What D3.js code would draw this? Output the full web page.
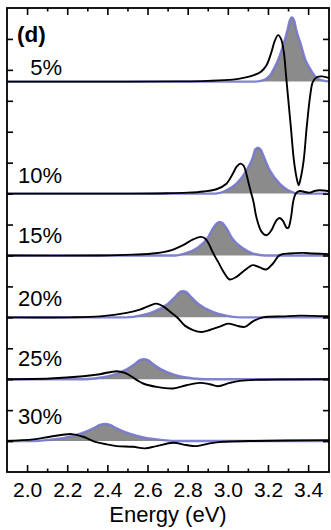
<!DOCTYPE html>
<html>
<head>
<meta charset="utf-8">
<script src="https://cdn.jsdelivr.net/npm/d3@7"></script>
<style>
  body { margin: 0; background: #fff; }
  svg { display: block; font-family: "Liberation Sans", Arial, sans-serif; }
</style>
</head>
<body>
<svg id="chart" width="331" height="530"></svg>
<script>
// Doping levels, one stacked trace each (top to bottom)
const concentrations = ["5%", "10%", "15%", "20%", "25%", "30%"];
// Vertical offset of each trace's zero line (arb. units)
const offsets = [11.62, 8, 6, 4, 2, 0];

// Energy axis ticks (eV)
const majorTicks = [2.0, 2.2, 2.4, 2.6, 2.8, 3.0, 3.2, 3.4];
const minorTicks = [2.1, 2.3, 2.5, 2.7, 2.9, 3.1, 3.3];
const levelTicks = [0, 1, 2, 3, 4, 5, 6, 7, 8, 9, 10, 11, 12, 13];

// Fitted absorption peak for each level: [energy (eV), intensity]
const peak05 = [[1.9,0],[3.134,0],[3.169,0.03],[3.194,0.10],[3.217,0.265],[3.234,0.47],[3.250,0.695],[3.279,1.235],[3.297,1.665],[3.308,1.96],[3.319,2.075],[3.331,1.96],[3.341,1.665],[3.362,1.235],[3.387,0.695],[3.405,0.47],[3.424,0.265],[3.447,0.10],[3.477,0.03],[3.51,0]];
const peak10 = [[1.9,0],[2.935,0],[2.993,0.107],[3.043,0.323],[3.093,0.753],[3.125,1.183],[3.136,1.42],[3.150,1.487],[3.164,1.42],[3.180,1.183],[3.209,0.753],[3.258,0.323],[3.300,0.107],[3.358,0],[3.51,0]];
const peak15 = [[1.9,0],[2.735,0],[2.792,0.078],[2.846,0.236],[2.898,0.55],[2.925,0.864],[2.945,1.04],[2.960,1.086],[2.975,1.04],[2.995,0.864],[3.022,0.55],[3.075,0.236],[3.120,0.078],[3.185,0],[3.51,0]];
const peak20 = [[1.9,0],[2.497,0],[2.568,0.061],[2.632,0.182],[2.699,0.426],[2.739,0.67],[2.758,0.80],[2.777,0.841],[2.796,0.80],[2.815,0.67],[2.855,0.426],[2.922,0.182],[2.986,0.061],[3.057,0],[3.51,0]];
const peak25 = [[1.9,0],[2.282,0],[2.360,0.047],[2.429,0.14],[2.499,0.327],[2.542,0.515],[2.562,0.618],[2.582,0.647],[2.602,0.618],[2.622,0.515],[2.665,0.327],[2.735,0.14],[2.804,0.047],[2.882,0],[3.51,0]];
const peak30 = [[1.9,0],[2.012,0],[2.111,0.04],[2.196,0.119],[2.284,0.278],[2.338,0.438],[2.363,0.525],[2.388,0.55],[2.413,0.525],[2.438,0.438],[2.492,0.278],[2.580,0.119],[2.665,0.04],[2.764,0],[3.51,0]];

// Measured spectrum for each level: [energy (eV), signal]
const spectrum05 = [[1.9,0],[2.5,0],[2.75,0.008],[2.900,0.025],[3.024,0.065],[3.084,0.13],[3.130,0.21],[3.165,0.32],[3.192,0.52],[3.217,0.95],[3.233,1.30],[3.250,1.503],[3.265,1.38],[3.279,0.95],[3.290,0.20],[3.300,-0.50],[3.314,-1.471],[3.329,-2.538],[3.343,-3.12],[3.353,-3.346],[3.363,-3.12],[3.378,-2.538],[3.393,-1.471],[3.412,-0.372],[3.424,0],[3.445,0.15],[3.47,0.17],[3.507,0.113]];
const spectrum10 = [[1.9,0],[2.5,0],[2.700,0.01],[2.800,0.03],[2.880,0.07],[2.943,0.14],[2.993,0.32],[3.026,0.66],[3.045,0.88],[3.063,0.970],[3.079,0.90],[3.092,0.65],[3.105,0.30],[3.117,0],[3.129,-0.30],[3.142,-0.757],[3.167,-1.22],[3.192,-1.348],[3.217,-1.187],[3.242,-0.863],[3.258,-0.789],[3.275,-0.88],[3.292,-1.10],[3.301,-1.11],[3.314,-0.80],[3.326,-0.25],[3.338,0],[3.358,0.084],[3.383,0.052],[3.407,0.03],[3.432,0.084],[3.457,0.107],[3.507,0.074]];
const spectrum15 = [[1.9,0],[2.363,0],[2.527,0.026],[2.640,0.07],[2.720,0.17],[2.777,0.333],[2.827,0.517],[2.865,0.601],[2.887,0.55],[2.903,0.40],[2.920,0.17],[2.935,-0.02],[2.951,-0.20],[2.976,-0.50],[3.009,-0.776],[3.043,-0.692],[3.084,-0.475],[3.125,-0.314],[3.159,-0.388],[3.192,-0.453],[3.225,-0.259],[3.258,0.01],[3.308,0.065],[3.374,0.084],[3.424,0.065],[3.507,0.042]];
const spectrum20 = [[1.9,0],[2.213,0],[2.363,0.032],[2.496,0.142],[2.562,0.249],[2.611,0.378],[2.645,0.443],[2.678,0.356],[2.720,0.142],[2.752,-0.03],[2.786,-0.268],[2.827,-0.41],[2.869,-0.472],[2.910,-0.41],[2.960,-0.30],[3.001,-0.204],[3.043,-0.268],[3.084,-0.31],[3.125,-0.129],[3.175,0],[3.275,0.032],[3.358,0.055],[3.507,0.032]];
const spectrum25 = [[1.9,0],[2.114,0.023],[2.280,0.097],[2.363,0.162],[2.446,0.259],[2.487,0.204],[2.528,0.055],[2.552,-0.048],[2.578,-0.139],[2.645,-0.249],[2.727,-0.301],[2.794,-0.194],[2.860,-0.12],[2.910,-0.162],[2.951,-0.226],[3.009,-0.12],[3.059,-0.055],[3.159,-0.016],[3.507,0]];
const spectrum30 = [[1.9,0],[2.031,0.055],[2.114,0.139],[2.222,0.226],[2.280,0.139],[2.329,0],[2.396,-0.107],[2.446,-0.162],[2.528,-0.184],[2.587,-0.236],[2.645,-0.162],[2.727,-0.055],[2.794,-0.129],[2.844,-0.162],[2.910,-0.074],[2.976,-0.023],[3.109,0],[3.507,0.032]];

const peaks = [peak05, peak10, peak15, peak20, peak25, peak30];
const spectra = [spectrum05, spectrum10, spectrum15, spectrum20, spectrum25, spectrum30];

// Label heights (same arb. units as the offsets)
const labelLevels = [11.83, 8.34, 6.40, 4.37, 2.43, 0.55];

(function drawChart() {
  const frameL = 7, frameR = 329, frameT = 8, frameB = 472;
  const x = d3.scaleLinear().domain([1.9, 3.504]).range([frameL, frameR]);
  const y = d3.scaleLinear().domain([-1, 14]).range([frameB, frameT]);

  const svg = d3.select("#chart");

  svg.append("defs").append("clipPath").attr("id", "plot-clip")
    .append("rect").attr("x", frameL).attr("y", frameT)
    .attr("width", frameR - frameL).attr("height", frameB - frameT);

  const plot = svg.append("g").attr("clip-path", "url(#plot-clip)");

  concentrations.forEach((label, i) => {
    const off = offsets[i];
    const area = d3.area()
      .x(d => x(d[0]))
      .y0(y(off))
      .y1(d => y(off + d[1]))
      .curve(d3.curveMonotoneX);
    const peakLine = d3.line()
      .x(d => x(d[0]))
      .y(d => y(off + d[1]))
      .curve(d3.curveMonotoneX);
    const spectrumLine = d3.line()
      .x(d => x(d[0]))
      .y(d => y(off + d[1]))
      .curve(d3.curveCatmullRom.alpha(0.5));

    plot.append("path")
      .attr("d", area(peaks[i]))
      .attr("fill", "#8b8b8b");
    plot.append("path")
      .attr("d", peakLine(peaks[i]))
      .attr("fill", "none")
      .attr("stroke", "#7676cf")
      .attr("stroke-width", 2.4)
      .attr("stroke-opacity", 0.9);
    plot.append("path")
      .attr("d", spectrumLine(spectra[i]))
      .attr("fill", "none")
      .attr("stroke", "#000")
      .attr("stroke-width", 1.9)
      .attr("stroke-linejoin", "round");
  });

  // Level labels
  svg.append("g").selectAll("text")
    .data(concentrations)
    .join("text")
    .attr("x", 62)
    .attr("y", (d, i) => y(labelLevels[i]))
    .attr("text-anchor", "end")
    .attr("font-size", 22)
    .attr("fill", "#000")
    .text(d => d);

  svg.append("text")
    .attr("x", 17)
    .attr("y", 42)
    .attr("font-size", 22.5)
    .attr("font-weight", "bold")
    .text("(d)");

  // Axes: inward ticks on all four sides
  function styleAxis(g) {
    g.select(".domain").remove();
    g.selectAll(".tick line").attr("stroke", "#000").attr("stroke-width", 1.6);
  }

  svg.append("g").attr("transform", `translate(0,${frameB})`)
    .call(d3.axisBottom(x).tickValues(majorTicks).tickSizeInner(-7).tickSizeOuter(0)
      .tickFormat(d3.format(".1f")))
    .call(styleAxis)
    .call(g => g.selectAll("text")
      .attr("y", 24.5).attr("dy", null)
      .attr("font-size", 21).attr("fill", "#000")
      .attr("font-family", "Liberation Sans, Arial, sans-serif"));
  svg.append("g").attr("transform", `translate(0,${frameB})`)
    .call(d3.axisBottom(x).tickValues(minorTicks).tickSizeInner(-3.5).tickSizeOuter(0).tickFormat(""))
    .call(styleAxis);
  svg.append("g").attr("transform", `translate(0,${frameT})`)
    .call(d3.axisTop(x).tickValues(majorTicks).tickSizeInner(-7).tickSizeOuter(0).tickFormat(""))
    .call(styleAxis);
  svg.append("g").attr("transform", `translate(0,${frameT})`)
    .call(d3.axisTop(x).tickValues(minorTicks).tickSizeInner(-3.5).tickSizeOuter(0).tickFormat(""))
    .call(styleAxis);
  svg.append("g").attr("transform", `translate(${frameL},0)`)
    .call(d3.axisLeft(y).tickValues(levelTicks).tickSizeInner(-6).tickSizeOuter(0).tickFormat(""))
    .call(styleAxis);
  svg.append("g").attr("transform", `translate(${frameR},0)`)
    .call(d3.axisRight(y).tickValues(levelTicks).tickSizeInner(-6).tickSizeOuter(0).tickFormat(""))
    .call(styleAxis);

  // Frame
  svg.append("rect")
    .attr("x", frameL).attr("y", frameT)
    .attr("width", frameR - frameL).attr("height", frameB - frameT)
    .attr("fill", "none").attr("stroke", "#000").attr("stroke-width", 1.8);

  svg.append("text")
    .attr("x", (frameL + frameR) / 2)
    .attr("y", 521.5)
    .attr("text-anchor", "middle")
    .attr("font-size", 22)
    .attr("fill", "#000")
    .text("Energy (eV)");
})();
</script>
</body>
</html>
